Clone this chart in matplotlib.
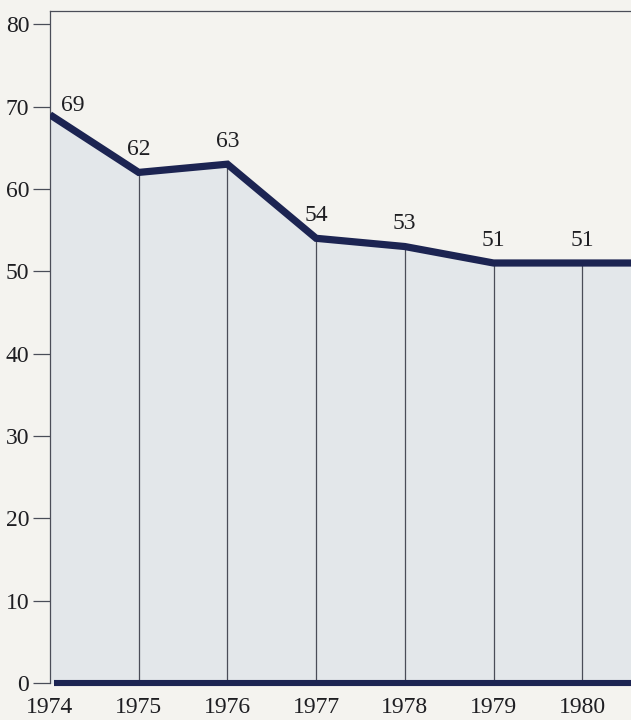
import matplotlib.pyplot as plt
import numpy as np

# ---------------------------------------------------------
# DATA
# ---------------------------------------------------------

years = [1974, 1975, 1976, 1977, 1978, 1979, 1980]
values = [69, 62, 63, 54, 53, 51, 51]
y_ticks = [0, 10, 20, 30, 40, 50, 60, 70, 80]

# the series runs flat past the last year to the page edge
x_right = 1980.55

NAVY = "#1c2452"
FILL = "#e3e7ea"
PAGE = "#f4f3ef"
EDGE = "#4a4d58"
INK = "#1e1e22"

plt.rcParams['font.family'] = ['Liberation Serif', 'DejaVu Serif']

fig = plt.figure(figsize=(6.31, 7.2), dpi=100, facecolor=PAGE)
ax = fig.add_axes([50 / 631, 37 / 720, 1 - 50 / 631, 672 / 720])
ax.set_facecolor(PAGE)

# ---------------------------------------------------------
# AREA + LINE
# ---------------------------------------------------------

xs = years + [x_right]
ys = values + [values[-1]]

ax.fill_between(xs, 0, ys, color=FILL, zorder=1)

for yr, v in zip(years[1:], values[1:]):
    ax.plot([yr, yr], [0, v], color=EDGE, lw=0.9, zorder=2)

ax.plot(xs, ys, color=NAVY, lw=5.2, solid_joinstyle='miter',
        solid_capstyle='butt', zorder=3)

# thick base line at zero
ax.plot([1974.04, x_right], [0, 0], color=NAVY, lw=4.4,
        solid_capstyle='butt', zorder=3, clip_on=False)

# ---------------------------------------------------------
# VALUE LABELS
# ---------------------------------------------------------

for i, (yr, v) in enumerate(zip(years, values)):
    if i == 0:
        ax.text(yr + 0.12, v - 0.1, str(v), ha='left', va='bottom',
                fontsize=17, color=INK)
    else:
        ax.text(yr, v + 1.5, str(v), ha='center', va='bottom',
                fontsize=17, color=INK)

# ---------------------------------------------------------
# AXES
# ---------------------------------------------------------

ax.set_xlim(1974, x_right)
ax.set_ylim(0, 81.6)

ax.set_yticks(y_ticks)
ax.set_yticklabels([str(t) for t in y_ticks], fontsize=17, color=INK)
ax.tick_params(axis='y', direction='out', length=12, width=0.9,
               color=EDGE, pad=3)

ax.set_xticks(years)
ax.set_xticklabels([str(y) for y in years], fontsize=17, color=INK)
ax.tick_params(axis='x', length=0, pad=10)

ax.spines['right'].set_visible(False)
ax.spines['bottom'].set_visible(False)
ax.spines['left'].set_color(EDGE)
ax.spines['left'].set_linewidth(0.9)
ax.spines['top'].set_color(EDGE)
ax.spines['top'].set_linewidth(0.9)

fig.savefig("out.png", dpi=100, facecolor=PAGE)
